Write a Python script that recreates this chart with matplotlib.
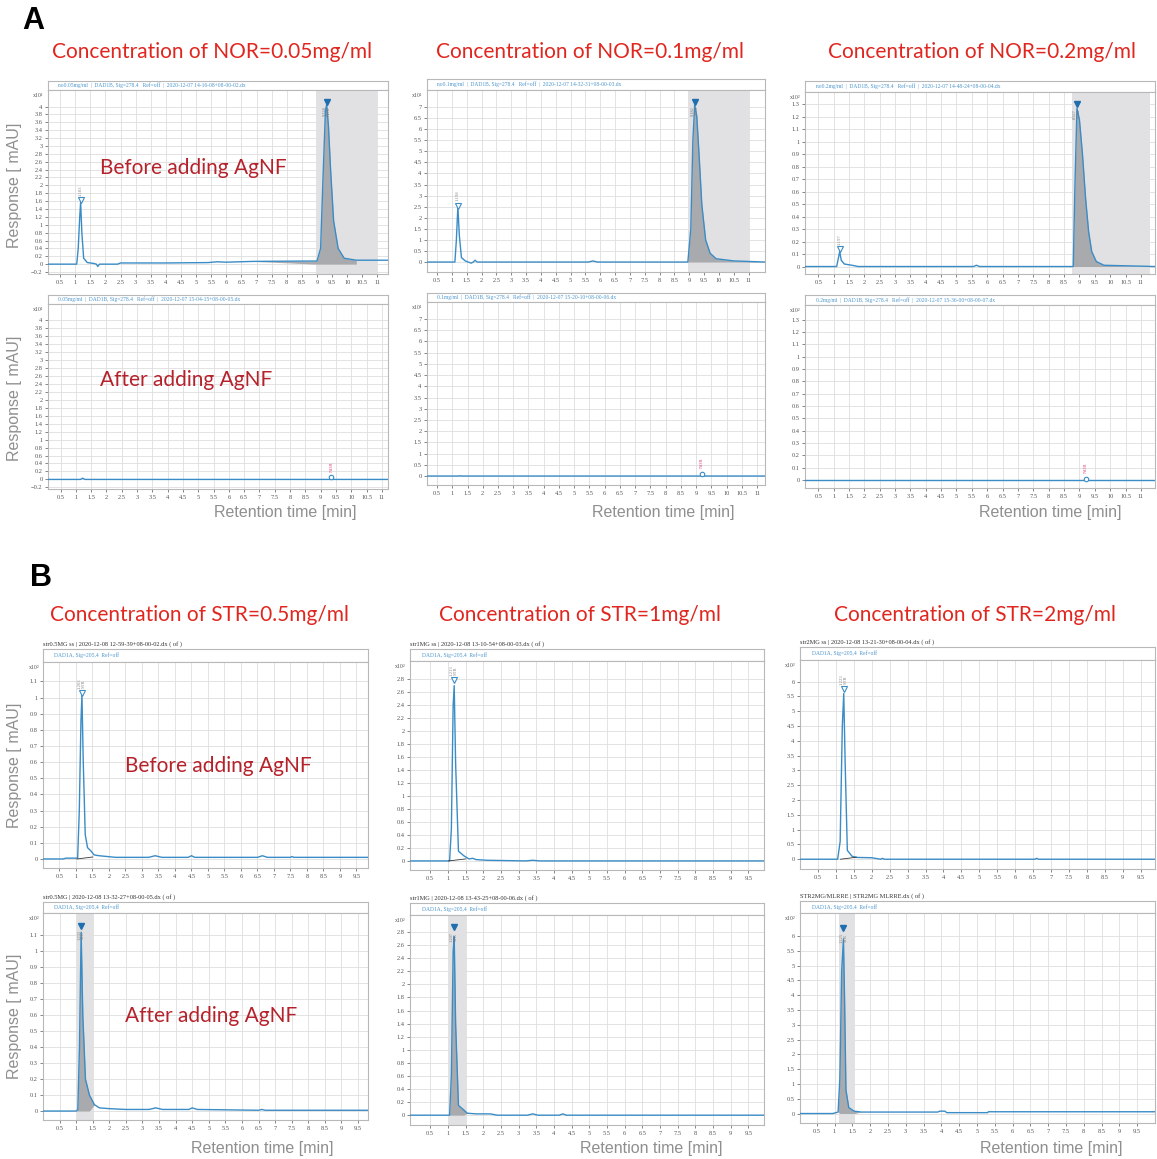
import matplotlib
matplotlib.use("Agg")
import matplotlib.pyplot as plt

W, H = 1157, 1159

# ---- text ----
nor_titles = ["Concentration of NOR=0.05mg/ml",
              "Concentration of NOR=0.1mg/ml",
              "Concentration of NOR=0.2mg/ml"]
str_titles = ["Concentration of STR=0.5mg/ml",
              "Concentration of STR=1mg/ml",
              "Concentration of STR=2mg/ml"]
nor_headers = [
    "no0.05mg/ml  |  DAD1B, Sig=278.4   Ref=off  |  2020-12-07 14-16-08+08-00-02.dx",
    "no0.1mg/ml  |  DAD1B, Sig=278.4   Ref=off  |  2020-12-07 14-32-31+08-00-03.dx",
    "no0.2mg/ml  |  DAD1B, Sig=278.4   Ref=off  |  2020-12-07 14-48-24+08-00-04.dx",
    "0.05mg/ml  |  DAD1B, Sig=278.4   Ref=off  |  2020-12-07 15-04-15+08-00-05.dx",
    "0.1mg/ml  |  DAD1B, Sig=278.4   Ref=off  |  2020-12-07 15-20-10+08-00-06.dx",
    "0.2mg/ml  |  DAD1B, Sig=278.4   Ref=off  |  2020-12-07 15-36-00+08-00-07.dx",
]
str_files = [
    "str0.5MG ss | 2020-12-08 12-59-39+08-00-02.dx ( of )",
    "str1MG ss | 2020-12-08 13-10-54+08-00-03.dx ( of )",
    "str2MG ss | 2020-12-08 13-21-30+08-00-04.dx ( of )",
    "str0.5MG | 2020-12-08 13-32-27+08-00-05.dx ( of )",
    "str1MG | 2020-12-08 13-43-25+08-00-06.dx ( of )",
    "STR2MG/MLRRE | STR2MG MLRRE.dx ( of )",
]
str_header = "DAD1A, Sig=205,4  Ref=off"

# ---- traces (retention time [min], response) ----
nor005_before_t = [0.10, 1.05, 1.10, 1.15, 1.18, 1.22, 1.28, 1.40, 1.60, 1.70, 1.75, 1.80,
                   2.40, 2.50, 4.00, 5.40, 5.70, 6.00, 6.90, 9.00, 9.12, 9.20, 9.28, 9.32,
                   9.38, 9.45, 9.55, 9.70, 9.90, 10.30, 11.35]
nor005_before_y = [0.00, 0.00, 0.40, 1.20, 1.58, 0.80, 0.15, 0.04, 0.02, 0.00, -0.06, 0.00,
                   0.00, 0.03, 0.03, 0.04, 0.06, 0.05, 0.07, 0.08, 0.40, 2.20, 3.90, 4.05,
                   3.50, 2.40, 1.10, 0.40, 0.15, 0.10, 0.10]
nor01_before_t = [0.16, 1.10, 1.15, 1.20, 1.25, 1.32, 1.45, 1.65, 1.72, 1.78, 1.85, 5.60,
                  5.75, 5.90, 8.95, 9.05, 9.12, 9.18, 9.25, 9.33, 9.42, 9.55, 9.70, 9.90,
                  10.50, 11.55]
nor01_before_y = [0.00, 0.00, 1.00, 2.50, 1.20, 0.20, 0.05, -0.05, 0.00, 0.08, 0.00, 0.00,
                  0.05, 0.00, 0.00, 1.50, 5.50, 7.10, 6.60, 4.80, 2.60, 1.00, 0.40, 0.15,
                  0.05, 0.00]
nor02_before_t = [0.07, 1.10, 1.15, 1.20, 1.25, 1.35, 1.60, 1.80, 5.55, 5.65, 5.75, 8.80,
                  8.85, 8.92, 9.00, 9.10, 9.20, 9.30, 9.40, 9.55, 9.80, 11.46]
nor02_before_y = [0.00, 0.00, 0.06, 0.12, 0.05, 0.02, 0.01, 0.00, 0.00, 0.01, 0.00, 0.00,
                  0.60, 1.27, 1.18, 0.90, 0.55, 0.28, 0.12, 0.04, 0.01, 0.00]
nor005_after_t = [0.09, 1.15, 1.22, 1.30, 11.20]
nor005_after_y = [0.00, 0.00, 0.03, 0.00, 0.00]
nor01_after_t = [0.17, 1.20, 1.25, 1.30, 11.26]
nor01_after_y = [0.00, 0.00, 0.01, 0.00, 0.00]
nor02_after_t = [0.07, 11.46]
nor02_after_y = [0.00, 0.00]

str05_before_t = [0.00, 0.60, 0.70, 1.05, 1.10, 1.15, 1.18, 1.22, 1.28, 1.35, 1.45, 1.55,
                  1.70, 2.20, 3.20, 3.40, 3.60, 4.40, 4.50, 4.60, 6.50, 6.65, 6.80, 7.50,
                  7.55, 7.60, 9.85]
str05_before_y = [0.00, 0.00, 0.005, 0.005, 0.30, 0.85, 1.02, 0.60, 0.15, 0.07, 0.05, 0.025,
                  0.02, 0.01, 0.01, 0.02, 0.01, 0.01, 0.02, 0.01, 0.01, 0.02, 0.01, 0.01,
                  0.015, 0.01, 0.01]
str1_before_t = [-0.07, 1.05, 1.10, 1.15, 1.18, 1.22, 1.30, 1.45, 1.60, 1.70, 1.80, 2.10,
                 3.20, 3.40, 3.60, 9.94]
str1_before_y = [0.00, 0.00, 0.50, 2.40, 2.70, 1.50, 0.15, 0.08, 0.03, 0.04, 0.02, 0.01,
                 0.00, 0.01, 0.00, 0.00]
str2_before_t = [0.00, 1.05, 1.12, 1.18, 1.22, 1.26, 1.32, 1.45, 1.60, 2.00, 2.10, 2.25,
                 2.30, 2.35, 6.55, 6.60, 6.65, 9.90]
str2_before_y = [0.00, 0.00, 0.60, 4.50, 5.60, 3.20, 0.30, 0.10, 0.06, 0.05, 0.03, 0.00,
                 0.03, 0.00, 0.00, 0.03, 0.00, 0.00]
str05_after_t = [0.00, 1.00, 1.05, 1.10, 1.15, 1.20, 1.28, 1.40, 1.55, 1.70, 2.00, 2.50,
                 3.20, 3.40, 3.60, 4.40, 4.50, 4.65, 6.50, 6.60, 6.70, 9.80]
str05_after_y = [0.00, 0.00, 0.01, 0.40, 1.12, 0.60, 0.20, 0.10, 0.04, 0.02, 0.015, 0.01,
                 0.01, 0.02, 0.01, 0.01, 0.02, 0.01, 0.005, 0.01, 0.005, 0.005]
str1_after_t = [-0.07, 1.05, 1.10, 1.15, 1.18, 1.22, 1.30, 1.45, 1.55, 1.80, 2.20, 2.40,
                3.25, 3.40, 3.55, 4.15, 4.25, 4.35, 9.94]
str1_after_y = [0.00, 0.00, 0.60, 2.50, 2.73, 1.40, 0.15, 0.08, 0.03, 0.02, 0.02, 0.00,
                0.00, 0.02, 0.00, 0.00, 0.02, 0.00, 0.00]
str2_after_t = [0.03, 0.95, 1.10, 1.15, 1.20, 1.25, 1.28, 1.32, 1.40, 1.55, 1.75, 3.90,
                3.95, 4.10, 4.15, 5.30, 5.32, 10.00]
str2_after_y = [0.00, 0.00, 0.05, 1.20, 4.80, 5.90, 4.00, 0.80, 0.20, 0.08, 0.05, 0.05,
                0.08, 0.08, 0.03, 0.03, 0.06, 0.06]

# small peaks (time, height, label) marked with an open triangle
nor_small_peaks = [(1.18, 1.62, "1.183"), (1.20, 2.55, "1.198"), (1.20, 0.14, "1.197")]
# main peaks marked with a filled triangle
nor_main_peaks = [(9.32, 4.12, "9.328"), (9.18, 7.25, "9.182"), (8.92, 1.30, "8.927")]
nor_windows = [(8.97, 10.98), (8.95, 11.02), (8.75, 11.29)]
nor_after_marks = [(9.35, 0.05), (9.20, 0.10), (9.20, 0.01)]
str_before_peaks = [(1.18, 1.03, "1.203"), (1.17, 2.79, "1.213"), (1.22, 5.75, "1.223")]
str_after_peaks = [(1.15, 1.16, "1.203"), (1.17, 2.87, "1.207"), (1.25, 6.26, "1.225")]
str_windows = [(1.03, 1.51), (1.02, 1.51), (1.13, 1.57)]

# ---- styles ----
TRACE = "#3a8cc6"
FRAME = "#b8b8b8"
GRID = "#dedede"
HEAD_BLUE = "#4a95cc"
TITLE_RED = "#e0261f"
LABEL_RED = "#b5222b"
AXLABEL = "#8f8f8f"
TICKFONT = "Liberation Serif"


def box(l, t, r, b):
    return [l / W, 1 - b / H, (r - l) / W, (b - t) / H]


def ftext(x, y, s, **kw):
    fig.text(x / W, 1 - y / H, s, **kw)


def fmt(v):
    return ("%g" % round(v, 3)).replace("-", "\u2212")


def draw_panel(geom, t, y, xlim, ylim, yticks, xticks, power, header,
               file_line=None):
    left, htop, right, ptop, bottom = geom
    if file_line:
        ftext(left, htop - 5, file_line, fontsize=4.6, family=TICKFONT,
              color="#333333", va="center")
    hax = fig.add_axes(box(left, htop, right, ptop))
    hax.set_xticks([])
    hax.set_yticks([])
    for s in hax.spines.values():
        s.set_color(FRAME)
        s.set_linewidth(0.8)
    hax.text(0.03 if file_line is None else 0.035, 0.5, header, color=HEAD_BLUE,
             fontsize=4.0, family=TICKFONT, va="center", transform=hax.transAxes)

    ax = fig.add_axes(box(left, ptop, right, bottom))
    ax.set_xlim(*xlim)
    ax.set_ylim(*ylim)
    ax.set_xticks(xticks)
    ax.set_xticklabels([fmt(v) for v in xticks])
    ax.set_yticks(yticks)
    ax.set_yticklabels([fmt(v) for v in yticks])
    ax.tick_params(labelsize=4.6, colors="#555555", length=2, width=0.5, pad=2)
    for lab in ax.get_xticklabels() + ax.get_yticklabels():
        lab.set_family(TICKFONT)
    ax.grid(True, color=GRID, lw=0.6)
    ax.set_axisbelow(True)
    for s in ax.spines.values():
        s.set_color(FRAME)
        s.set_linewidth(0.8)
    ax.text(-0.012, 0.985, "x10" + power, transform=ax.transAxes, ha="right",
            va="top", fontsize=4.2, family=TICKFONT, color="#555555")
    ax.plot(t, y, color=TRACE, lw=1.0, zorder=3)
    return ax


def add_window(ax, t, y, win):
    ax.axvspan(win[0], win[1], color="#e1e1e3", zorder=1, lw=0)
    ax.fill_between(t, y, 0, where=[(win[0] <= v <= win[1]) for v in t],
                    interpolate=True, color="#a8aaad", zorder=2, lw=0)


def open_peak(ax, p, name=None):
    ax.plot(p[0], p[1], marker="v", ms=4, mfc="white", mec=TRACE, mew=0.8, zorder=4)
    label = p[2] if name is None else p[2] + "\n" + name
    ax.annotate(label, (p[0], p[1]), xytext=(0, 3), textcoords="offset points",
                rotation=90, fontsize=3.4, color="#8a8a8a", ha="center", va="bottom",
                family=TICKFONT, linespacing=0.9)


def filled_peak(ax, p, name):
    ax.plot(p[0], p[1], marker="v", ms=4, color="#1f6fb0", zorder=4)
    ax.annotate(p[2] + "\n" + name, (p[0], p[1]), xytext=(0, -3),
                textcoords="offset points", rotation=90, fontsize=3.2,
                color="#7a7a7a", ha="center", va="top", family=TICKFONT,
                linespacing=0.9)


fig = plt.figure(figsize=(W / 100, H / 100), dpi=100)

# ---- panel A : NOR ----
nor_before = [(nor005_before_t, nor005_before_y), (nor01_before_t, nor01_before_y),
              (nor02_before_t, nor02_before_y)]
nor_after = [(nor005_after_t, nor005_after_y), (nor01_after_t, nor01_after_y),
             (nor02_after_t, nor02_after_y)]
xt_nor = [0.5 * i for i in range(1, 23)]
nor_yticks = [[-0.2 + 0.2 * i for i in range(22)],
              [0.5 * i for i in range(15)],
              [0.1 * i for i in range(14)]]
nor_power = ["\u00b9", "\u00b9", "\u00b2"]
nor_xlims = [[(0.10, 11.35), (0.16, 11.55), (0.07, 11.46)],
             [(0.09, 11.20), (0.17, 11.26), (0.07, 11.46)]]
nor_ylims = [[(-0.25, 4.42), (-0.45, 7.77), (-0.06, 1.40)],
             [(-0.24, 4.40), (-0.40, 7.76), (-0.065, 1.42)]]
nor_geom = [[(48, 81, 388, 90, 274), (427, 79, 765, 90, 272), (805, 81, 1155, 92, 274)],
            [(48, 295, 388, 304, 489), (427, 293, 765, 302, 485), (805, 295, 1155, 305, 488)]]

for i in range(3):
    t, y = nor_before[i]
    ax = draw_panel(nor_geom[0][i], t, y, nor_xlims[0][i], nor_ylims[0][i],
                    nor_yticks[i], xt_nor, nor_power[i], nor_headers[i])
    add_window(ax, t, y, nor_windows[i])
    open_peak(ax, nor_small_peaks[i])
    filled_peak(ax, nor_main_peaks[i], "NOR")

    t, y = nor_after[i]
    ax = draw_panel(nor_geom[1][i], t, y, nor_xlims[1][i], nor_ylims[1][i],
                    nor_yticks[i], xt_nor, nor_power[i], nor_headers[3 + i])
    m = nor_after_marks[i]
    ax.plot(m[0], m[1], marker="o", ms=3.2, mfc="white", mec=TRACE, mew=0.8, zorder=4)
    ax.annotate("NOR", (m[0], m[1]), xytext=(0, 4), textcoords="offset points",
                rotation=90, fontsize=3.6, color="#e0457e", ha="center", va="bottom",
                family=TICKFONT)

# ---- panel B : STR ----
str_before = [(str05_before_t, str05_before_y), (str1_before_t, str1_before_y),
              (str2_before_t, str2_before_y)]
str_after = [(str05_after_t, str05_after_y), (str1_after_t, str1_after_y),
             (str2_after_t, str2_after_y)]
xt_str = [0.5 * i for i in range(1, 20)]
str_yticks = [[0.1 * i for i in range(12)],
              [0.2 * i for i in range(15)],
              [0.5 * i for i in range(13)]]
str_xlims = [[(0.0, 9.85), (-0.07, 9.94), (0.0, 9.9)],
             [(0.0, 9.80), (-0.07, 9.94), (0.03, 10.0)]]
str_ylims = [[(-0.056, 1.22), (-0.14, 3.08), (-0.33, 6.73)],
             [(-0.056, 1.24), (-0.15, 3.06), (-0.32, 6.78)]]
str_geom = [[(43, 649, 368, 662, 868), (410, 649, 764, 661, 870), (800, 647, 1155, 660, 869)],
            [(43, 902, 368, 913, 1120), (410, 903, 764, 915, 1125), (800, 901, 1155, 913, 1123)]]

for i in range(3):
    t, y = str_before[i]
    ax = draw_panel(str_geom[0][i], t, y, str_xlims[0][i], str_ylims[0][i],
                    str_yticks[i], xt_str, "\u00b2", str_header, str_files[i])
    open_peak(ax, str_before_peaks[i], "STR")
    w = str_windows[i]
    ax.plot([w[0], w[1]], [0.0, 0.01 * str_ylims[0][i][1]], color="#333333",
            lw=0.6, zorder=3)

    t, y = str_after[i]
    ax = draw_panel(str_geom[1][i], t, y, str_xlims[1][i], str_ylims[1][i],
                    str_yticks[i], xt_str, "\u00b2", str_header, str_files[3 + i])
    add_window(ax, t, y, str_windows[i])
    filled_peak(ax, str_after_peaks[i], "STR")

# ---- figure texts ----
ftext(22, 21, "A", fontsize=22, fontweight="bold", family="Liberation Sans", va="center")
ftext(30, 578, "B", fontsize=22, fontweight="bold", family="Liberation Sans", va="center")
for cx, s in zip([212, 590, 982], nor_titles):
    ftext(cx, 52, s, fontsize=15, color=TITLE_RED, family="Lato", ha="center", va="center")
for cx, s in zip([200, 580, 975], str_titles):
    ftext(cx, 615, s, fontsize=15, color=TITLE_RED, family="Lato", ha="center", va="center")

ftext(100, 168, "Before adding AgNF", fontsize=15, color=LABEL_RED, family="Lato", va="center")
ftext(100, 380, "After adding AgNF", fontsize=15, color=LABEL_RED, family="Lato", va="center")
ftext(125, 766, "Before adding AgNF", fontsize=15, color=LABEL_RED, family="Lato", va="center")
ftext(125, 1016, "After adding AgNF", fontsize=15, color=LABEL_RED, family="Lato", va="center")

for cy in [185, 398, 765, 1016]:
    ftext(15, cy, "Response [ mAU]", fontsize=11.5, color=AXLABEL, rotation=90,
          family="Liberation Sans", ha="center", va="center")
for cx in [285, 663, 1050]:
    ftext(cx, 513, "Retention time [min]", fontsize=11.5, color=AXLABEL,
          family="Liberation Sans", ha="center", va="center")
for cx in [262, 651, 1051]:
    ftext(cx, 1148, "Retention time [min]", fontsize=11.5, color=AXLABEL,
          family="Liberation Sans", ha="center", va="center")

fig.savefig("out.png", dpi=100)
